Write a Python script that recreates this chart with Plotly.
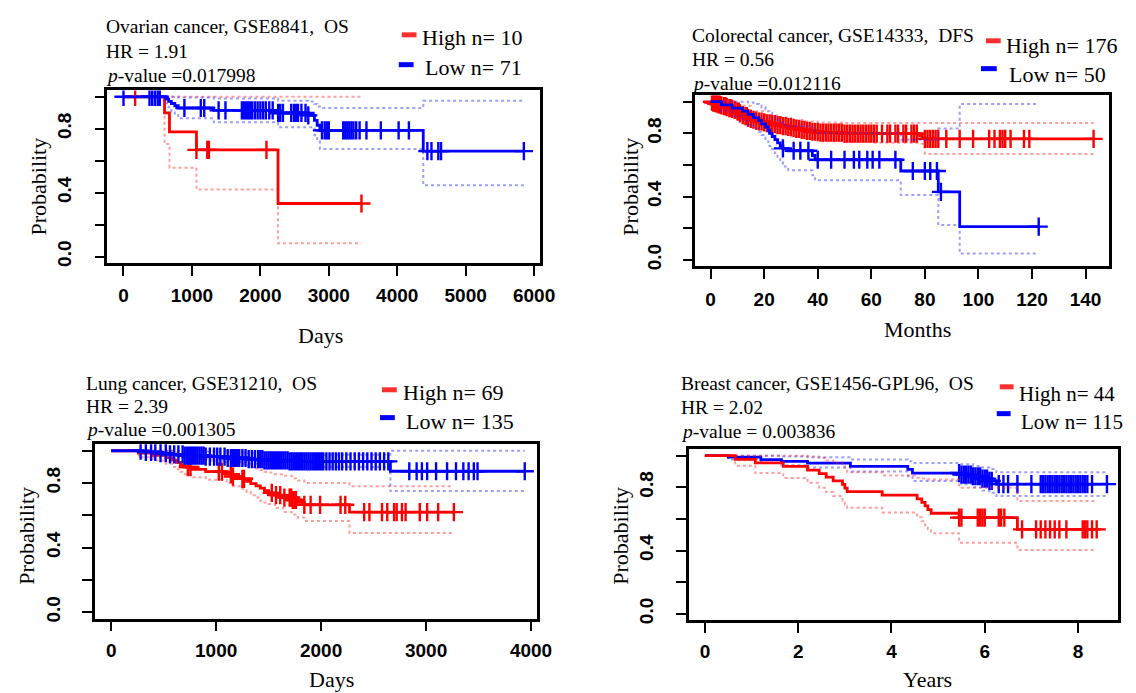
import numpy as np
import plotly.graph_objects as go

W, H = 1136, 693

# ---------------- Panel 1: Ovarian cancer, GSE8841, OS (Days) ----------------
p1_high_t = [0, 600, 672, 1066, 2258]
p1_high_s = [1.0, 0.9, 0.78, 0.668, 0.332]
p1_high_up = [1.0, 1.0, 1.0, 1.0, 1.0]
p1_high_lo = [1.0, 0.705, 0.556, 0.419, 0.083]
p1_high_end = 3477
p1_high_cens = [170, 1066, 1224, 1248, 2089, 3477]

p1_low_t = [0, 620, 660, 700, 750, 800, 1320, 2260, 2700, 2790, 2830, 2870, 4380]
p1_low_s = [1.0, 0.986, 0.972, 0.958, 0.944, 0.93, 0.915, 0.899, 0.884, 0.853, 0.822, 0.79, 0.66]
p1_low_up = [1.0, 1.0, 1.0, 1.0, 1.0, 0.995, 0.99, 0.975, 0.97, 0.955, 0.94, 0.93, 0.975]
p1_low_lo = [1.0, 0.96, 0.935, 0.91, 0.885, 0.865, 0.84, 0.81, 0.81, 0.76, 0.72, 0.674, 0.446]
p1_low_end = 5850
p1_low_cens = [0, 380, 420, 460, 500, 530, 890, 1130, 1180, 1390, 1490, 1730, 1760, 1790,
               1820, 1850, 1880, 1920, 1960, 2000, 2040, 2080, 2130, 2180, 2260, 2290, 2330,
               2450, 2490, 2520, 2550, 2600, 2660, 2700, 2900, 2940, 2970, 3000, 3210, 3240,
               3270, 3300, 3330, 3360, 3400, 3450, 3550, 3760, 4020, 4170, 4440, 4500, 4600,
               4640, 5850]

# ---------------- Panel 2: Colorectal cancer, GSE14333, DFS (Months) ----------------
p2_high_t = [0, 1, 2, 3, 4, 5, 6, 7, 8, 9, 10, 11, 12, 13, 14, 15, 16, 17, 18, 20, 21, 23,
             25, 27, 29, 31, 32, 34, 36, 38, 41, 50, 78, 79, 80]
p2_high_s = [1.0, 0.994, 0.989, 0.983, 0.977, 0.972, 0.966, 0.96, 0.955, 0.949, 0.938, 0.926,
             0.915, 0.909, 0.898, 0.892, 0.886, 0.881, 0.875, 0.869, 0.864, 0.858, 0.852, 0.846,
             0.84, 0.834, 0.828, 0.822, 0.816, 0.81, 0.804, 0.798, 0.785, 0.775, 0.765]
p2_high_end = 143
p2_high_ci_t = [0, 2, 5, 10, 15, 20, 25, 30, 35, 40, 50, 60, 78, 80]
p2_high_up = [1.0, 1.0, 0.995, 0.975, 0.94, 0.915, 0.9, 0.885, 0.875, 0.868, 0.865, 0.865, 0.865, 0.866]
p2_high_lo = [1.0, 0.98, 0.95, 0.9, 0.86, 0.83, 0.8, 0.78, 0.765, 0.75, 0.745, 0.74, 0.735, 0.67]
p2_high_cens = [0.5, 1, 1.5, 2, 2.5, 3, 3.5, 4, 5, 5.5, 6, 7, 7.5, 8, 9, 10, 10.5, 11, 12, 13,
                13.5, 14, 15, 16, 17, 18, 19, 20, 21, 22, 23, 24, 25, 26, 27, 28, 29, 30, 31,
                32, 33, 34, 35, 36, 37, 38, 39, 40, 41, 42, 43, 44, 45, 46, 47, 48, 49, 50,
                51, 52, 53, 54, 55, 56, 57, 58, 59, 60, 61, 62, 64, 66, 67, 69, 70, 72, 73,
                75, 76, 77, 80, 81, 82, 83, 84, 85, 88, 93, 98, 104, 106, 108, 109, 110, 112,
                117, 119, 143]

p2_low_t = [0, 4, 8, 12, 14, 16, 18, 19, 20.5, 21.5, 22, 23, 24, 25, 26, 27, 29, 38, 39, 71, 85, 93]
p2_low_s = [1.0, 0.98, 0.96, 0.94, 0.92, 0.9, 0.88, 0.86, 0.84, 0.82, 0.8, 0.78, 0.76, 0.74,
            0.72, 0.705, 0.69, 0.66, 0.633, 0.562, 0.43, 0.21]
p2_low_up = [1.0, 1.0, 1.0, 1.0, 0.995, 0.985, 0.975, 0.965, 0.95, 0.94, 0.93, 0.915, 0.9,
             0.885, 0.87, 0.855, 0.845, 0.82, 0.8, 0.76, 0.83, 0.985]
p2_low_lo = [1.0, 0.94, 0.91, 0.88, 0.855, 0.83, 0.81, 0.79, 0.765, 0.745, 0.72, 0.7, 0.675,
             0.64, 0.615, 0.59, 0.566, 0.535, 0.503, 0.41, 0.22, 0.04]
p2_low_end = 122.5
p2_low_cens = [27, 31, 33.5, 36.5, 40, 45, 50, 53.5, 55.5, 58.5, 60.5, 63, 69, 75.5, 80, 82,
               84.5, 86, 122.5]

# ---------------- Panel 3: Lung cancer, GSE31210, OS (Days) ----------------
p3_high_t = [0, 260, 400, 520, 580, 620, 660, 700, 760, 900, 1100, 1160, 1250, 1290, 1330,
             1380, 1420, 1460, 1500, 1560, 1640, 1720, 1780, 1840, 2270]
p3_high_s = [1.0, 0.986, 0.971, 0.957, 0.942, 0.928, 0.913, 0.899, 0.884, 0.87, 0.855, 0.84,
             0.826, 0.81, 0.796, 0.782, 0.768, 0.753, 0.739, 0.725, 0.71, 0.695, 0.68, 0.665, 0.62]
p3_high_up = [1.0, 1.0, 1.0, 1.0, 0.995, 0.99, 0.98, 0.97, 0.96, 0.95, 0.94, 0.93, 0.92, 0.91,
              0.9, 0.89, 0.88, 0.87, 0.865, 0.855, 0.845, 0.83, 0.815, 0.8, 0.78]
p3_high_lo = [1.0, 0.96, 0.94, 0.92, 0.9, 0.885, 0.87, 0.855, 0.835, 0.82, 0.8, 0.78, 0.765,
              0.745, 0.725, 0.71, 0.69, 0.68, 0.67, 0.645, 0.62, 0.605, 0.585, 0.565, 0.49]
p3_high_end = 3265
p3_high_cens = [730, 755, 1025, 1055, 1140, 1160, 1250, 1265, 1530, 1570, 1610, 1650, 1700,
                1715, 1730, 1745, 1760, 1840, 1900, 1990, 2185, 2230, 2410, 2460, 2580, 2630,
                2695, 2720, 2770, 2805, 2940, 3010, 3115, 3265]

p3_low_t = [0, 300, 450, 560, 700, 900, 1100, 1300, 1450, 1700, 2660]
p3_low_s = [1.0, 0.993, 0.985, 0.978, 0.97, 0.963, 0.955, 0.948, 0.94, 0.934, 0.873]
p3_low_up = [1.0, 1.0, 1.0, 1.0, 1.0, 0.995, 0.99, 0.985, 0.98, 0.975, 1.0]
p3_low_lo = [1.0, 0.98, 0.97, 0.96, 0.95, 0.94, 0.93, 0.92, 0.91, 0.9, 0.75]
p3_low_end = 3940
p3_low_cens = [280, 330, 380, 420, 470, 520, 560, 600, 640, 680, 700, 720, 740, 760, 780, 800,
               820, 840, 860, 880, 900, 940, 980, 1010, 1040, 1080, 1110, 1140, 1160, 1180,
               1200, 1220, 1250, 1280, 1310, 1340, 1370, 1400, 1420, 1440, 1460, 1480, 1500,
               1520, 1540, 1560, 1580, 1600, 1620, 1640, 1660, 1680, 1700, 1720, 1740, 1760,
               1780, 1800, 1820, 1840, 1860, 1880, 1900, 1920, 1940, 1960, 1980, 2000, 2020,
               2050, 2080, 2110, 2140, 2170, 2200, 2240, 2280, 2320, 2360, 2400, 2440, 2480,
               2520, 2560, 2600, 2640, 2840, 2910, 2960, 3010, 3095, 3200, 3285, 3355, 3405,
               3455, 3490, 3940]

# ---------------- Panel 4: Breast cancer, GSE1456-GPL96, OS (Years) ----------------
p4_high_t = [0, 0.65, 1.08, 1.68, 2.2, 2.45, 2.6, 2.75, 2.95, 3.0, 3.05, 3.8, 4.55, 4.65,
             4.72, 4.78, 4.85, 5.45, 6.7]
p4_high_s = [1.0, 0.977, 0.955, 0.932, 0.909, 0.886, 0.864, 0.841, 0.818, 0.795, 0.773, 0.75,
             0.727, 0.705, 0.682, 0.659, 0.636, 0.608, 0.534]
p4_high_up = [1.0, 1.0, 1.0, 1.0, 0.995, 0.985, 0.97, 0.955, 0.935, 0.915, 0.895, 0.875, 0.86,
              0.855, 0.852, 0.85, 0.849, 0.797, 0.713]
p4_high_lo = [1.0, 0.937, 0.89, 0.859, 0.828, 0.797, 0.77, 0.745, 0.715, 0.69, 0.67, 0.64,
              0.61, 0.585, 0.56, 0.535, 0.509, 0.45, 0.404]
p4_high_end = 8.4
p4_high_cens = [5.45, 5.5, 5.85, 5.9, 5.95, 6.0, 6.3, 6.35, 6.42, 6.8, 7.1, 7.2, 7.3, 7.4,
                7.5, 7.6, 7.75, 8.1, 8.15, 8.2, 8.3, 8.4]

p4_low_t = [0, 0.5, 1.2, 1.64, 2.2, 3.12, 4.35, 4.45, 5.5, 5.75, 5.95, 6.1, 6.25]
p4_low_s = [1.0, 0.991, 0.975, 0.964, 0.953, 0.932, 0.913, 0.89, 0.88, 0.87, 0.855, 0.84, 0.82]
p4_low_up = [1.0, 1.0, 1.0, 0.995, 0.99, 0.975, 0.965, 0.953, 0.945, 0.935, 0.925, 0.915, 0.895]
p4_low_lo = [1.0, 0.975, 0.955, 0.94, 0.925, 0.9, 0.87, 0.84, 0.82, 0.8, 0.78, 0.765, 0.745]
p4_low_end = 8.62
p4_low_cens = [5.45, 5.5, 5.55, 5.6, 5.65, 5.7, 5.75, 5.8, 5.85, 5.9, 5.95, 6.0, 6.05, 6.1,
               6.15, 6.3, 6.4, 6.5, 6.7, 7.0, 7.2, 7.25, 7.3, 7.35, 7.4, 7.45, 7.5, 7.55, 7.6,
               7.65, 7.7, 7.75, 7.8, 7.85, 7.9, 7.95, 8.0, 8.05, 8.1, 8.15, 8.2, 8.3, 8.62]

# ---------------- Texts ----------------
titles = [
    ["Ovarian cancer, GSE8841,  OS", "HR = 1.91", "<i>p</i>-value =0.017998"],
    ["Colorectal cancer, GSE14333,  DFS", "HR = 0.56", "<i>p</i>-value =0.012116"],
    ["Lung cancer, GSE31210,  OS", "HR = 2.39", "<i>p</i>-value =0.001305"],
    ["Breast cancer, GSE1456-GPL96,  OS", "HR = 2.02", "<i>p</i>-value = 0.003836"],
]
legend_high = ["High n= 10", "High n= 176", "High n= 69", "High n= 44"]
legend_low = ["Low n= 71", "Low n= 50", "Low n= 135", "Low n= 115"]
x_titles = ["Days", "Months", "Days", "Years"]
x_ticks = [[0, 1000, 2000, 3000, 4000, 5000, 6000],
           [0, 20, 40, 60, 80, 100, 120, 140],
           [0, 1000, 2000, 3000, 4000],
           [0, 2, 4, 6, 8]]
y_tickvals = [0, 0.2, 0.4, 0.6, 0.8, 1.0]
y_ticktext = ["0.0", "", "0.4", "", "0.8", ""]

# ---------------- Layout geometry (pixels) ----------------
boxes = [  # left, right, top, bottom
    (100.8, 539.0, 82.9, 256.4),
    (696.5, 1115.6, 87.9, 259.7),
    (88.0, 536.0, 438.8, 614.2),
    (689.7, 1125.0, 443.9, 615.7),
]
x_ranges = [[-234, 6084], [-5.72, 148.7], [-156, 4056], [-0.35, 8.86]]

RED = "#ff0000"
BLUE = "#0000ff"
RED_CI = "rgba(255,40,40,0.45)"
BLUE_CI = "rgba(40,40,255,0.45)"

fig = go.Figure()


def step_xy(t, s, end):
    return list(t) + [end], list(s) + [s[-1]]


def add_group(idx, t, s, up, lo, end, cens, color, ci_color, ci_t=None):
    xa = "x" if idx == 0 else f"x{idx + 1}"
    ya = "y" if idx == 0 else f"y{idx + 1}"
    ct = t if ci_t is None else ci_t
    for arr in (up, lo):
        xx, yy = step_xy(ct, arr, end)
        fig.add_trace(go.Scatter(x=xx, y=yy, mode="lines", line_shape="hv",
                                 line=dict(color=ci_color, width=2, dash="dot"),
                                 xaxis=xa, yaxis=ya, showlegend=False, hoverinfo="skip"))
    xx, yy = step_xy(t, s, end)
    fig.add_trace(go.Scatter(x=xx, y=yy, mode="lines", line_shape="hv",
                             line=dict(color=color, width=2.8),
                             xaxis=xa, yaxis=ya, showlegend=False))
    ta = np.asarray(t, dtype=float)
    sa = np.asarray(s, dtype=float)
    ci = np.clip(np.searchsorted(ta, np.asarray(cens, dtype=float), side="right") - 1, 0, len(sa) - 1)
    fig.add_trace(go.Scatter(x=cens, y=sa[ci], mode="markers",
                             marker=dict(symbol="cross-thin", size=13,
                                         line=dict(color=color, width=2.4)),
                             xaxis=xa, yaxis=ya, showlegend=False))


add_group(0, p1_high_t, p1_high_s, p1_high_up, p1_high_lo, p1_high_end, p1_high_cens, RED, RED_CI)
add_group(0, p1_low_t, p1_low_s, p1_low_up, p1_low_lo, p1_low_end, p1_low_cens, BLUE, BLUE_CI)
add_group(1, p2_high_t, p2_high_s, p2_high_up, p2_high_lo, p2_high_end, p2_high_cens, RED, RED_CI,
          ci_t=p2_high_ci_t)
add_group(1, p2_low_t, p2_low_s, p2_low_up, p2_low_lo, p2_low_end, p2_low_cens, BLUE, BLUE_CI)
add_group(2, p3_high_t, p3_high_s, p3_high_up, p3_high_lo, p3_high_end, p3_high_cens, RED, RED_CI)
add_group(2, p3_low_t, p3_low_s, p3_low_up, p3_low_lo, p3_low_end, p3_low_cens, BLUE, BLUE_CI)
add_group(3, p4_low_t, p4_low_s, p4_low_up, p4_low_lo, p4_low_end, p4_low_cens, BLUE, BLUE_CI)
add_group(3, p4_high_t, p4_high_s, p4_high_up, p4_high_lo, p4_high_end, p4_high_cens, RED, RED_CI)

tick_font = dict(family="Liberation Sans, Arial, sans-serif", size=19, color="black", weight="bold")
serif = "Liberation Serif, Times New Roman, serif"

layout = dict(width=W, height=H, margin=dict(l=0, r=0, t=0, b=0),
              paper_bgcolor="white", plot_bgcolor="white", showlegend=False)

x_standoff = [4, 4, 3, 2]
y_standoff = [16, 14, 14, 15]
for i, (l, r, t, b) in enumerate(boxes):
    xk = "xaxis" if i == 0 else f"xaxis{i + 1}"
    yk = "yaxis" if i == 0 else f"yaxis{i + 1}"
    ya = "y" if i == 0 else f"y{i + 1}"
    xa = "x" if i == 0 else f"x{i + 1}"
    layout[xk] = dict(domain=[l / W, r / W], range=x_ranges[i], anchor=ya,
                      tickvals=x_ticks[i], ticks="outside", ticklen=10, tickwidth=2,
                      tickcolor="black", showline=True, mirror=True, linecolor="black",
                      linewidth=2.5, showgrid=False, zeroline=False, tickfont=tick_font,
                      ticklabelstandoff=x_standoff[i])
    layout[yk] = dict(domain=[1 - b / H, 1 - t / H], range=[-0.04, 1.04], anchor=xa,
                      tickvals=y_tickvals, ticktext=y_ticktext, tickangle=-90,
                      ticks="outside", ticklen=10, tickwidth=2, tickcolor="black",
                      showline=True, mirror=True, linecolor="black", linewidth=2.5,
                      showgrid=False, zeroline=False, tickfont=tick_font,
                      ticklabelstandoff=y_standoff[i])
fig.update_layout(**layout)

# Text positions (pixels)
title_pos = [(97, [19, 44, 68]), (691, [28, 52, 76]), (77, [378, 401, 424]), (680, [378, 402, 426])]
leg_pos = [  # red dash x0,x1,y ; high text x,y ; blue dash x0,x1,y ; low text x,y
    ((399, 414, 27), (418, 30), (396, 411, 57), (421, 60)),
    ((991, 1006, 33), (1009, 38), (986, 1002, 61), (1012, 67)),
    ((379, 394, 384), (398, 387), (377, 392, 412), (401, 416)),
    ((1005, 1019, 381), (1023, 388), (1002, 1016, 408), (1025, 416)),
]
leg_size = [22, 22, 22, 21]
xt_pos = [(317, 329), (922, 323), (328, 675), (932, 675)]
yt_pos = [(31, 180), (631, 180), (19, 531), (621, 531)]

annotations = []
shapes = []
for i in range(4):
    x0, ys = title_pos[i]
    for txt, yy in zip(titles[i], ys):
        annotations.append(dict(text=txt, x=x0 / W, y=1 - yy / H, xref="paper", yref="paper",
                                xanchor="left", yanchor="middle", showarrow=False,
                                font=dict(family=serif, size=19.5, color="black")))
    (rx0, rx1, ry), (hx, hy), (bx0, bx1, by), (lx, ly) = leg_pos[i]
    shapes.append(dict(type="line", xref="paper", yref="paper", x0=rx0 / W, x1=rx1 / W,
                       y0=1 - ry / H, y1=1 - ry / H, line=dict(color="#ff3030", width=5)))
    shapes.append(dict(type="line", xref="paper", yref="paper", x0=bx0 / W, x1=bx1 / W,
                       y0=1 - by / H, y1=1 - by / H, line=dict(color=BLUE, width=5)))
    annotations.append(dict(text=legend_high[i], x=hx / W, y=1 - hy / H, xref="paper", yref="paper",
                            xanchor="left", yanchor="middle", showarrow=False,
                            font=dict(family=serif, size=leg_size[i], color="black")))
    annotations.append(dict(text=legend_low[i], x=lx / W, y=1 - ly / H, xref="paper", yref="paper",
                            xanchor="left", yanchor="middle", showarrow=False,
                            font=dict(family=serif, size=leg_size[i], color="black")))
    annotations.append(dict(text=x_titles[i], x=xt_pos[i][0] / W, y=1 - xt_pos[i][1] / H,
                            xref="paper", yref="paper", xanchor="center", yanchor="middle",
                            showarrow=False, font=dict(family=serif, size=22, color="black")))
    annotations.append(dict(text="Probability", x=yt_pos[i][0] / W, y=1 - yt_pos[i][1] / H,
                            xref="paper", yref="paper", xanchor="center", yanchor="middle",
                            textangle=-90, showarrow=False,
                            font=dict(family=serif, size=22, color="black")))

fig.update_layout(annotations=annotations, shapes=shapes)
fig.write_html("out.html")
